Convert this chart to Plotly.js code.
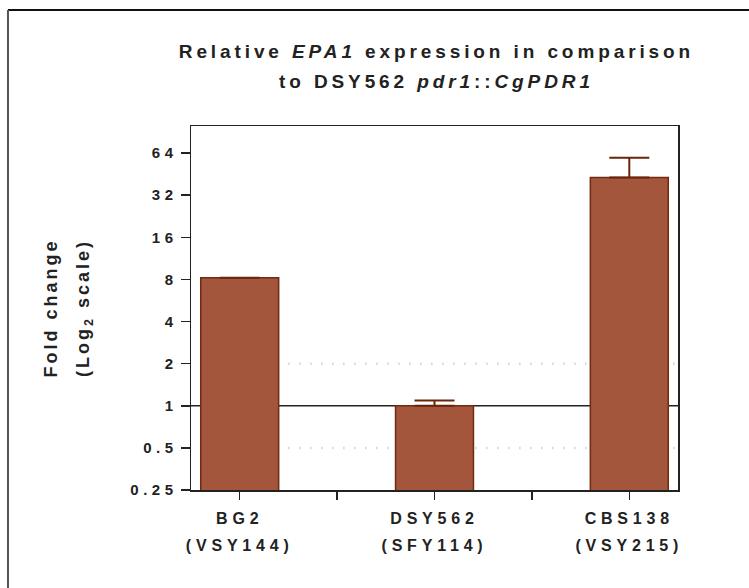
<!DOCTYPE html>
<html>
<head>
<meta charset="utf-8">
<script src="https://cdn.plot.ly/plotly-3.0.1.min.js"></script>
<style>
  html, body { margin: 0; padding: 0; background: #fff; }
  #chart { width: 749px; height: 588px; }
  /* widely tracked lettering used throughout the figure */
  .gtitle { letter-spacing: 3.9px; }
  .xtick text { letter-spacing: 4.8px; }
  .ytick text { letter-spacing: 4.5px; }
  .ytitle { letter-spacing: 3.0px; }
</style>
</head>
<body>
<div id="chart"></div>
<script>
// Strains and relative EPA1 expression (fold change, log2 axis)
const strains = ['BG2', 'DSY562', 'CBS138'];
const strainIds = ['(VSY144)', '(SFY114)', '(VSY215)'];
const foldChange = [8.24, 1.0, 42.8];
const errorUpper = [null, 0.09, 16.6];
const yTickValues = [0.25, 0.5, 1, 2, 4, 8, 16, 32, 64];
const yTickLabels = ['0.25', '0.5', '1', '2', '4', '8', '16', '32', '64'];

const FONT = 'Liberation Sans, Arial, sans-serif';
const INK = '#222222';

const xPos = strains.map((s, i) => i);

// two-line strain labels; inner spans keep the glyph size while the
// larger tick font opens up the line spacing
const xTickText = xPos.map(i =>
  '<span style="font-size:16px">' + strains[i] + '</span><br>' +
  '<span style="font-size:16px">' + strainIds[i] + '</span>');

const bars = {
  type: 'bar',
  x: xPos,
  y: foldChange,
  width: 0.4,
  marker: { color: '#a4563c', line: { color: '#6f2a12', width: 1.5 } },
  error_y: {
    type: 'data',
    symmetric: false,
    array: errorUpper,
    arrayminus: errorUpper.map(() => 0),
    color: '#6b2409',
    thickness: 2,
    width: 20
  },
  hoverinfo: 'skip'
};

const layout = {
  width: 749,
  height: 588,
  margin: { l: 191, r: 71, t: 126, b: 98 },
  paper_bgcolor: '#ffffff',
  plot_bgcolor: '#ffffff',
  showlegend: false,
  font: { family: FONT, color: INK },
  title: {
    text: '<span style="font-size:19px">Relative <i>EPA1</i> expression in comparison</span><br>' +
          '<span style="font-size:19px">to DSY562 <i>pdr1</i>::<i>CgPDR1</i></span>',
    font: { family: FONT, size: 22.7, color: INK, weight: 'bold' },
    xref: 'paper',
    x: 0.504,
    xanchor: 'center',
    yref: 'container',
    y: 0.901,
    yanchor: 'top'
  },
  xaxis: {
    type: 'linear',
    range: [-0.25, 2.25],
    tickmode: 'array',
    tickvals: xPos,
    ticktext: xTickText,
    tickfont: { family: FONT, size: 20.5, color: INK, weight: 'bold' },
    ticks: 'outside',
    ticklen: 8,
    tickwidth: 1.5,
    tickcolor: INK,
    minor: {
      tick0: 0,
      dtick: 0.5,
      ticks: 'outside',
      ticklen: 8,
      tickwidth: 1.5,
      tickcolor: INK,
      showgrid: false
    },
    showline: true,
    mirror: true,
    linecolor: INK,
    linewidth: 1.5,
    showgrid: false,
    zeroline: false,
    fixedrange: true
  },
  yaxis: {
    type: 'log',
    range: [Math.log10(0.25), Math.log10(100)],
    tickmode: 'array',
    tickvals: yTickValues,
    ticktext: yTickLabels,
    tickfont: { family: FONT, size: 15, color: INK, weight: 'bold' },
    ticks: 'outside',
    ticklen: 9,
    tickwidth: 1.5,
    tickcolor: INK,
    showline: true,
    mirror: true,
    linecolor: INK,
    linewidth: 1.5,
    showgrid: false,
    zeroline: false,
    fixedrange: true,
    title: {
      text: '<span style="font-size:18px">Fold change</span><br>' +
            '<span style="font-size:18px">(Log<sub>2</sub> scale)</span>',
      font: { family: FONT, size: 24.6, color: INK, weight: 'bold' },
      standoff: 33
    }
  },
  shapes: [
    // reference line at no change
    { type: 'line', xref: 'paper', yref: 'y', x0: 0, x1: 1, y0: 1, y1: 1,
      line: { color: INK, width: 1.5 }, layer: 'below' },
    // two-fold up / down guides
    { type: 'line', xref: 'x', yref: 'y', x0: 0.25, x1: 2.25, y0: 2, y1: 2,
      line: { color: '#bdbdbd', width: 2.5, dash: '1px,10px' }, layer: 'below' },
    { type: 'line', xref: 'x', yref: 'y', x0: 0.25, x1: 2.25, y0: 0.5, y1: 0.5,
      line: { color: '#bdbdbd', width: 2.5, dash: '1px,10px' }, layer: 'below' },
    // figure frame (top and left edges)
    { type: 'line', xref: 'paper', yref: 'paper', x0: -0.3758, x1: 1.2, y0: 1.3187, y1: 1.3187,
      line: { color: '#111111', width: 2 } },
    { type: 'line', xref: 'paper', yref: 'paper', x0: -0.3758, x1: -0.3758, y0: 1.3187, y1: -0.3,
      line: { color: '#555555', width: 2 } }
  ]
};

Plotly.newPlot('chart', [bars], layout, { displayModeBar: false, staticPlot: true });
</script>
</body>
</html>
